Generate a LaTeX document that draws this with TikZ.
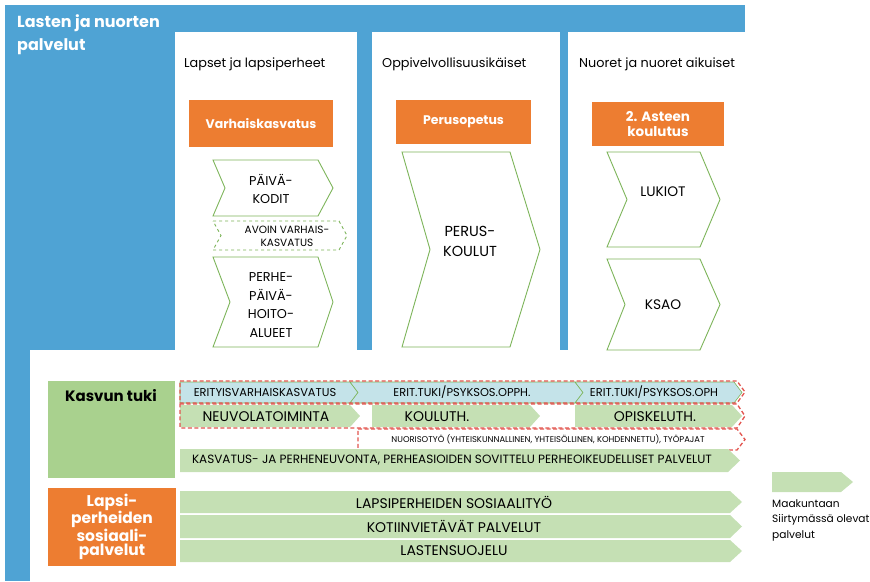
\documentclass[tikz,border=0pt]{standalone}
\usepackage{fontspec}
\setmainfont{Poppins}

\definecolor{frameblue}{HTML}{4FA3D4}
\definecolor{boxorange}{HTML}{ED7D31}
\definecolor{rowgreen}{HTML}{C5E0B4}
\definecolor{tukigreen}{HTML}{A9D18E}
\definecolor{rowblue}{HTML}{C4E3E9}
\definecolor{linegreen}{HTML}{7DB55A}
\definecolor{dashred}{HTML}{E2554F}

% chevron: [style]{left x}{top y}{tip x}{bottom y}{tip depth}{notch depth}
\newcommand{\chev}[7][]{\path[#1] (#2,#3) -- ({#4-#6},#3) -- (#4,{(#3+#5)/2}) -- ({#4-#6},#5) -- (#2,#5) -- ({#2+#7},{(#3+#5)/2}) -- cycle;}

\tikzset{
  colline/.style={draw=linegreen, fill=white, line width=0.9pt},
  coldash/.style={draw=linegreen, fill=white, line width=0.9pt, dashed},
  bluerow/.style={fill=rowblue, draw=linegreen, line width=0.6pt},
  greenrow/.style={fill=rowgreen},
  reddash/.style={draw=dashred, line width=1.3pt, dash pattern=on 4pt off 2.5pt},
  orangebox/.style={fill=boxorange, text=white, font=\bfseries\fontsize{12.5}{15}\selectfont, align=center, inner sep=0},
  head/.style={anchor=base west, inner sep=0, font=\fontsize{12.8}{15}\selectfont},
  chevtext/.style={inner sep=0, align=center, font=\fontsize{12.8}{18.5}\selectfont},
  rowtext/.style={inner sep=0, font=\fontsize{12}{14}\selectfont}
}

\begin{document}
\begin{tikzpicture}[x=1pt,y=-1pt]
\useasboundingbox (0,0) rectangle (870,581);

% frame
\fill[frameblue] (5,5) rectangle (745,350);
\fill[frameblue] (5,350) rectangle (30,581);
\fill[white] (175,32) rectangle (357,351);
\fill[white] (372,32) rectangle (560,351);
\fill[white] (568,32) rectangle (746,351);

\node[anchor=west, align=left, inner sep=0, text=white, font=\bfseries\fontsize{16}{23}\selectfont] (title) at (17,35) {Lasten ja nuorten\\palvelut};

% columns
\node[head] (lapset) at (184,67) {Lapset ja lapsiperheet};
\node[head] (oppi) at (382,67) {Oppivelvollisuusikäiset};
\node[head] (nuoret) at (579,67) {Nuoret ja nuoret aikuiset};

\node[orangebox, minimum width=144, minimum height=47] (varhais) at (261,123.5) {Varhaiskasvatus};
\node[orangebox, minimum width=135, minimum height=44] (perusop) at (463.5,122) {Perusopetus};
\node[orangebox, minimum width=132, minimum height=44, font=\bfseries\fontsize{13.5}{15}\selectfont] (asteen) at (658,124) {2. Asteen\\koulutus};

\chev[colline]{213}{160}{333}{216}{15}{12}
\node[chevtext] (paivakodit) at (271,189) {PÄIVÄ-\\KODIT};
\chev[coldash]{213}{221}{347}{250}{8}{8}
\node[chevtext, font=\fontsize{10.5}{13}\selectfont] (avoin) at (287,236) {AVOIN VARHAIS-\\KASVATUS};
\chev[colline]{213}{257}{333}{347}{15}{17}
\node[chevtext] (perhe) at (271,305) {PERHE-\\PÄIVÄ-\\HOITO-\\ALUEET};

\chev[colline]{402}{152}{540}{347}{30}{28}
\node[chevtext, font=\fontsize{14.5}{20}\selectfont] (peruskoulut) at (470,241) {PERUS-\\KOULUT};

\chev[colline]{607}{152}{720}{247}{20}{20}
\node[chevtext, font=\fontsize{13.8}{18}\selectfont] (lukiot) at (663,192) {LUKIOT};
\chev[colline]{607}{259}{720}{350}{20}{18}
\node[chevtext, font=\fontsize{13.8}{18}\selectfont] (ksao) at (663,305) {KSAO};

% kasvun tuki
\fill[tukigreen] (48,381) rectangle (175,478);
\node[inner sep=0, font=\bfseries\fontsize{15}{17}\selectfont] (kasvuntuki) at (111,396) {Kasvun tuki};

\chev[bluerow]{180}{382}{358}{403}{8}{0}
\chev[bluerow]{350}{382}{583}{403}{8}{8}
\chev[bluerow]{575}{382}{742}{403}{8}{8}
\node[rowtext, font=\fontsize{11.4}{13}\selectfont] (erityis) at (265,392.5) {ERITYISVARHAISKASVATUS};
\node[rowtext, font=\fontsize{11.4}{13}\selectfont] (erit1) at (462,392.5) {ERIT.TUKI/PSYKSOS.OPPH.};
\node[rowtext, font=\fontsize{11.4}{13}\selectfont] (erit2) at (654,392.5) {ERIT.TUKI/PSYKSOS.OPH};

\chev[greenrow]{180}{405}{360}{427}{10}{0}
\chev[greenrow]{372}{405}{540}{427}{10}{0}
\chev[greenrow]{575}{405}{742}{427}{10}{0}
\node[rowtext, font=\fontsize{14}{16}\selectfont] (neuvola) at (266,416.5) {NEUVOLATOIMINTA};
\node[rowtext, font=\fontsize{14}{16}\selectfont] (kouluth) at (437,416.5) {KOULUTH.};
\node[rowtext, font=\fontsize{14}{16}\selectfont] (opiskeluth) at (655,416.5) {OPISKELUTH.};

\node[rowtext, font=\fontsize{8.4}{10}\selectfont] (nuoriso) at (548,439.5) {NUORISOTYÖ (YHTEISKUNNALLINEN, YHTEISÖLLINEN, KOHDENNETTU), TYÖPAJAT};

\chev[reddash]{180}{381}{745}{403}{8}{0}
\chev[reddash]{180}{404}{745}{428}{8}{0}
\chev[reddash]{358}{429}{745}{450}{8}{0}

\chev[greenrow]{180}{449}{740}{472}{12}{0}
\node[rowtext] (kasvatus) at (452,460.5) {KASVATUS- JA PERHENEUVONTA, PERHEASIOIDEN SOVITTELU PERHEOIKEUDELLISET PALVELUT};

% sosiaalipalvelut
\node[orangebox, minimum width=128, minimum height=78, font=\bfseries\fontsize{15.5}{14.5}\selectfont] (sosiaali) at (112,527) {Lapsi-\\perheiden\\sosiaali-\\palvelut};

\chev[greenrow]{180}{491}{742}{513}{12}{0}
\chev[greenrow]{180}{515}{742}{538}{12}{0}
\chev[greenrow]{180}{540}{742}{562}{12}{0}
\node[rowtext, font=\fontsize{14}{16}\selectfont] (sostyo) at (454,502) {LAPSIPERHEIDEN SOSIAALITYÖ};
\node[rowtext, font=\fontsize{14}{16}\selectfont] (kotiin) at (454,526.5) {KOTIINVIETÄVÄT PALVELUT};
\node[rowtext, font=\fontsize{14}{16}\selectfont] (suojelu) at (454,551) {LASTENSUOJELU};

% legend
\chev[greenrow]{772}{472}{853}{492}{12}{0}
\node[anchor=north west, align=left, inner sep=0, font=\fontsize{10.6}{15.5}\selectfont] (maakunta) at (772,499) {Maakuntaan\\Siirtymässä olevat\\palvelut};

\end{tikzpicture}
\end{document}
